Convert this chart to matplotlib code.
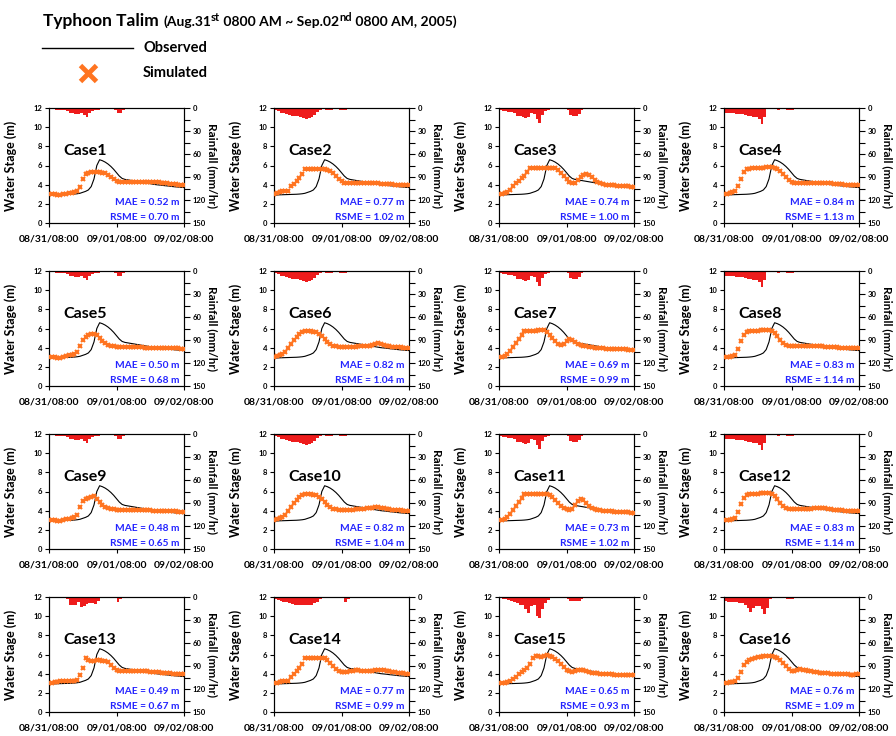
import numpy as np
import matplotlib
matplotlib.use("Agg")
import matplotlib.pyplot as plt
from matplotlib.lines import Line2D
from matplotlib.ticker import MultipleLocator

plt.rcParams['font.family'] = ['Lato', 'DejaVu Sans']
plt.rcParams['font.weight'] = 'bold'

# hourly time axis, 08/31 08:00 -> 09/02 08:00
hours = np.arange(49)
rain_hours = np.arange(48)
xtick_pos = [0, 24, 48]
xtick_labels = ['08/31/08:00', '09/01/08:00', '09/02/08:00']

observed = [2.9, 2.92, 2.94, 2.95, 2.96, 2.97, 2.98, 2.99, 3.0, 3.02, 3.05,
            3.1, 3.2, 3.3, 3.45, 3.8, 4.6, 6.0, 6.6,
            6.5, 6.35, 6.15, 5.9, 5.6, 5.25, 4.9, 4.65, 4.55, 4.5, 4.45, 4.4,
            4.35, 4.3, 4.25, 4.2, 4.15, 4.1, 4.05, 4.0, 3.97, 3.94, 3.9, 3.87,
            3.84, 3.8, 3.77, 3.75, 3.72, 3.7]

sim_case1 = [3.0, 3.0, 3.0, 2.95, 2.95, 3.0, 3.05, 3.1, 3.15, 3.2, 3.3,
             3.8, 4.6, 5.1, 5.25, 5.3, 5.3, 5.3, 5.3, 5.25, 5.2,
             5.0, 4.8, 4.6, 4.4, 4.3, 4.25, 4.25, 4.3, 4.3, 4.3,
             4.3, 4.3, 4.3, 4.3, 4.3, 4.3, 4.3, 4.3, 4.25, 4.2,
             4.2, 4.15, 4.1, 4.1, 4.05, 4.0, 4.0, 3.95]
sim_case2 = [3.0, 3.1, 3.2, 3.3, 3.3, 3.3, 3.9, 4.1, 4.4, 4.7, 5.1,
             5.6, 5.65, 5.65, 5.65, 5.65, 5.65, 5.65, 5.6, 5.55, 5.4,
             5.2, 4.9, 4.6, 4.35, 4.2, 4.15, 4.15, 4.15, 4.15, 4.15,
             4.15, 4.15, 4.15, 4.15, 4.15, 4.15, 4.15, 4.1, 4.1, 4.1,
             4.05, 4.05, 4.0, 4.0, 4.0, 4.0, 3.95, 3.95]
sim_case3 = [3.0, 3.0, 3.1, 3.2, 3.45, 3.9, 4.2, 4.4, 4.7, 4.9, 5.3,
             5.7, 5.7, 5.75, 5.75, 5.75, 5.75, 5.7, 5.7, 5.7, 5.7,
             5.5, 5.2, 4.9, 4.6, 4.3, 4.15, 4.2, 4.5, 4.8, 5.0,
             5.1, 5.0, 4.8, 4.5, 4.3, 4.2, 4.1, 4.0, 4.0, 3.95,
             3.95, 3.9, 3.9, 3.85, 3.85, 3.85, 3.8, 3.8]
sim_case4 = [3.0, 3.0, 3.1, 3.2, 3.3, 3.9, 4.6, 5.3, 5.6, 5.65, 5.7,
             5.7, 5.7, 5.75, 5.75, 5.8, 5.8, 5.8, 5.7, 5.6, 5.4,
             5.1, 4.8, 4.5, 4.3, 4.15, 4.15, 4.15, 4.15, 4.15, 4.15,
             4.15, 4.15, 4.2, 4.2, 4.2, 4.2, 4.15, 4.15, 4.1, 4.1,
             4.05, 4.05, 4.0, 4.0, 4.0, 4.0, 3.95, 3.95]
sim_case5 = [3.0, 3.0, 3.0, 2.95, 2.95, 3.0, 3.1, 3.2, 3.2, 3.3, 3.5,
             4.2, 4.8, 5.1, 5.3, 5.45, 5.4, 5.3, 5.0, 4.7, 4.5,
             4.3, 4.2, 4.15, 4.1, 4.1, 4.1, 4.05, 4.05, 4.05, 4.05,
             4.05, 4.05, 4.05, 4.0, 4.0, 4.0, 4.0, 4.0, 3.95, 3.95,
             3.95, 3.95, 3.95, 4.0, 4.0, 3.95, 3.9, 3.9]
sim_case6 = [3.0, 3.1, 3.2, 3.3, 3.5, 4.0, 4.4, 4.8, 5.1, 5.4, 5.6,
             5.7, 5.7, 5.7, 5.65, 5.6, 5.4, 5.2, 4.9, 4.6, 4.4,
             4.2, 4.15, 4.1, 4.1, 4.1, 4.1, 4.1, 4.1, 4.1, 4.15,
             4.15, 4.15, 4.2, 4.2, 4.3, 4.4, 4.45, 4.4, 4.3, 4.2,
             4.15, 4.1, 4.1, 4.05, 4.05, 4.0, 4.0, 3.95]
sim_case7 = [3.0, 3.0, 3.1, 3.3, 3.7, 4.1, 4.5, 4.9, 5.3, 5.7, 5.75,
             5.75, 5.7, 5.75, 5.8, 5.85, 5.8, 5.6, 5.3, 5.0, 4.7,
             4.4, 4.25, 4.4, 4.7, 4.9, 4.8, 4.6, 4.4, 4.3, 4.2,
             4.15, 4.1, 4.05, 4.0, 4.0, 3.95, 3.95, 3.9, 3.9, 3.9,
             3.9, 3.85, 3.85, 3.85, 3.85, 3.8, 3.8, 3.8]
sim_case8 = [3.0, 3.0, 3.05, 3.1, 3.2, 3.9, 4.7, 5.3, 5.6, 5.7, 5.75,
             5.75, 5.75, 5.8, 5.8, 5.8, 5.8, 5.7, 5.5, 5.2, 4.8,
             4.5, 4.3, 4.2, 4.15, 4.15, 4.15, 4.15, 4.15, 4.15, 4.15,
             4.15, 4.15, 4.15, 4.15, 4.15, 4.1, 4.1, 4.1, 4.05, 4.05,
             4.0, 4.0, 4.0, 4.0, 4.0, 3.95, 3.95, 3.95]
sim_case9 = [3.0, 3.0, 3.0, 2.95, 2.95, 3.0, 3.1, 3.15, 3.2, 3.3, 3.5,
             4.4, 5.0, 5.2, 5.3, 5.4, 5.5, 5.2, 4.9, 4.6, 4.4,
             4.3, 4.2, 4.15, 4.1, 4.1, 4.1, 4.1, 4.1, 4.1, 4.1,
             4.1, 4.1, 4.1, 4.05, 4.05, 4.05, 4.0, 4.0, 4.0, 4.0,
             4.0, 3.95, 3.95, 3.95, 3.95, 3.9, 3.9, 3.9]
sim_case10 = [3.0, 3.1, 3.2, 3.3, 3.5, 4.0, 4.4, 4.8, 5.1, 5.4, 5.6,
              5.7, 5.7, 5.7, 5.65, 5.6, 5.4, 5.2, 4.9, 4.6, 4.4,
              4.2, 4.15, 4.1, 4.1, 4.1, 4.1, 4.1, 4.1, 4.15, 4.15,
              4.2, 4.2, 4.25, 4.3, 4.3, 4.35, 4.35, 4.3, 4.25, 4.2,
              4.15, 4.1, 4.1, 4.05, 4.05, 4.0, 4.0, 3.95]
sim_case11 = [3.0, 3.0, 3.1, 3.3, 3.7, 4.1, 4.5, 4.9, 5.3, 5.7, 5.75,
              5.75, 5.7, 5.75, 5.75, 5.7, 5.7, 5.7, 5.6, 5.4, 5.1,
              4.8, 4.5, 4.3, 4.15, 4.1, 4.2, 4.6, 5.0, 5.2, 5.1,
              4.8, 4.5, 4.3, 4.2, 4.1, 4.05, 4.0, 4.0, 3.95, 3.95,
              3.9, 3.9, 3.9, 3.85, 3.85, 3.85, 3.8, 3.8]
sim_case12 = [3.0, 3.0, 3.05, 3.1, 3.2, 3.9, 4.7, 5.3, 5.6, 5.7, 5.75,
              5.75, 5.75, 5.8, 5.8, 5.8, 5.8, 5.7, 5.5, 5.2, 4.8,
              4.5, 4.3, 4.2, 4.15, 4.15, 4.15, 4.15, 4.15, 4.2, 4.2,
              4.2, 4.25, 4.3, 4.3, 4.3, 4.25, 4.2, 4.15, 4.1, 4.1,
              4.05, 4.05, 4.0, 4.0, 4.0, 3.95, 3.95, 3.95]
sim_case13 = [3.0, 3.05, 3.1, 3.15, 3.2, 3.2, 3.2, 3.2, 3.2, 3.2, 3.3,
              3.9, 4.6, 5.6, 5.4, 5.3, 5.3, 5.4, 5.4, 5.35, 5.3,
              5.2, 4.9, 4.6, 4.4, 4.3, 4.3, 4.3, 4.3, 4.3, 4.3,
              4.3, 4.3, 4.3, 4.25, 4.25, 4.2, 4.2, 4.15, 4.15, 4.1,
              4.1, 4.05, 4.05, 4.0, 4.0, 4.0, 3.95, 3.95]
sim_case14 = [3.0, 3.05, 3.1, 3.2, 3.2, 3.2, 3.7, 4.0, 4.3, 4.6, 5.0,
              5.6, 5.65, 5.65, 5.65, 5.65, 5.65, 5.65, 5.6, 5.4, 5.1,
              4.8, 4.5, 4.3, 4.2, 4.2, 4.2, 4.25, 4.3, 4.35, 4.35,
              4.3, 4.3, 4.3, 4.3, 4.3, 4.35, 4.4, 4.4, 4.35, 4.3,
              4.25, 4.2, 4.15, 4.1, 4.1, 4.05, 4.0, 4.0]
sim_case15 = [3.0, 3.0, 3.05, 3.1, 3.2, 3.4, 3.7, 4.0, 4.2, 4.4, 4.6,
              5.0, 5.6, 5.8, 5.8, 5.75, 5.8, 5.9, 5.85, 5.7, 5.5,
              5.3, 5.0, 4.7, 4.4, 4.25, 4.2, 4.25, 4.35, 4.4, 4.35,
              4.25, 4.15, 4.1, 4.05, 4.05, 4.0, 4.0, 3.95, 3.95, 3.95,
              3.9, 3.9, 3.9, 3.9, 3.85, 3.85, 3.85, 3.85]
sim_case16 = [3.0, 3.05, 3.1, 3.15, 3.2, 3.5, 4.2, 4.9, 5.2, 5.4, 5.5,
              5.6, 5.7, 5.75, 5.8, 5.8, 5.8, 5.8, 5.75, 5.6, 5.4,
              5.1, 4.8, 4.5, 4.3, 4.3, 4.4, 4.45, 4.4, 4.35, 4.3,
              4.25, 4.2, 4.15, 4.1, 4.1, 4.05, 4.05, 4.0, 4.0, 4.0,
              3.95, 3.95, 3.95, 3.95, 3.9, 3.9, 3.95, 3.95]

# hourly rainfall (mm/hr)
rain_col1 = [1, 1, 2, 2, 2, 3, 4, 6, 7, 8, 8, 7,
             9, 12, 6, 4, 3, 2, 1, 1, 1, 1, 1, 2,
             7, 6, 2, 1, 1, 1, 1, 1, 1, 1, 1, 1,
             1, 1, 1, 1, 1, 1, 1, 1, 1, 1, 1, 1]
rain_col2 = [3, 4, 6, 7, 8, 9, 10, 11, 11, 12, 13, 14,
             13, 12, 9, 5, 2, 1, 2, 2, 2, 1, 1, 2,
             2, 2, 1, 1, 1, 1, 1, 1, 1, 1, 1, 1,
             1, 1, 1, 1, 1, 1, 1, 1, 1, 1, 1, 1]
rain_col3 = [3, 4, 4, 5, 5, 6, 10, 11, 12, 13, 12, 7,
             8, 14, 20, 9, 4, 3, 1, 1, 1, 1, 1, 1,
             3, 9, 10, 10, 8, 2, 1, 1, 1, 1, 1, 1,
             1, 1, 1, 1, 1, 1, 1, 1, 1, 1, 1, 1]
rain_col4 = [6, 7, 7, 7, 8, 8, 8, 9, 10, 11, 12, 12,
             14, 21, 12, 1, 1, 1, 1, 2, 1, 1, 2, 2,
             2, 1, 1, 1, 1, 1, 1, 1, 1, 1, 1, 1,
             1, 1, 1, 1, 1, 1, 1, 1, 1, 1, 1, 1]
rain_case13 = [1, 1, 1, 1, 1, 1, 2, 10, 11, 11, 6, 13,
               12, 9, 8, 8, 9, 5, 1, 1, 1, 1, 1, 1,
               7, 2, 1, 1, 1, 1, 1, 1, 1, 1, 1, 1,
               1, 1, 1, 1, 1, 1, 1, 1, 1, 1, 1, 1]
rain_case14 = [3, 4, 5, 6, 7, 8, 9, 10, 10, 11, 11, 11,
               10, 10, 8, 6, 3, 1, 1, 1, 1, 1, 1, 1,
               1, 7, 2, 1, 1, 1, 1, 1, 1, 1, 1, 1,
               1, 1, 1, 1, 1, 1, 1, 1, 1, 1, 1, 1]
rain_case15 = [1, 2, 3, 4, 5, 6, 8, 10, 11, 15, 21, 12,
               11, 25, 28, 15, 8, 4, 1, 1, 1, 1, 1, 1,
               3, 5, 5, 5, 5, 2, 1, 1, 1, 1, 1, 1,
               1, 1, 1, 1, 1, 1, 1, 1, 1, 1, 1, 1]
rain_case16 = [5, 6, 7, 7, 7, 8, 8, 10, 14, 20, 14, 12,
               12, 16, 22, 14, 3, 1, 1, 1, 1, 1, 2, 3,
               3, 1, 1, 1, 1, 1, 1, 1, 1, 1, 1, 1,
               1, 1, 1, 1, 1, 1, 1, 1, 1, 1, 1, 1]

case_names = ['Case%d' % i for i in range(1, 17)]
mae = [0.52, 0.77, 0.74, 0.84, 0.50, 0.82, 0.69, 0.83,
       0.48, 0.82, 0.73, 0.83, 0.49, 0.77, 0.65, 0.76]
rsme = [0.70, 1.02, 1.00, 1.13, 0.68, 1.04, 0.99, 1.14,
        0.65, 1.04, 1.02, 1.14, 0.67, 0.99, 0.93, 1.09]

simulated = [sim_case1, sim_case2, sim_case3, sim_case4,
             sim_case5, sim_case6, sim_case7, sim_case8,
             sim_case9, sim_case10, sim_case11, sim_case12,
             sim_case13, sim_case14, sim_case15, sim_case16]
rainfall = [rain_col1, rain_col2, rain_col3, rain_col4] * 3 + \
           [rain_case13, rain_case14, rain_case15, rain_case16]

ORANGE = '#ff7420'
RED = '#ee1c1c'
BLUE = '#2424ff'

W, H = 896, 736
fig = plt.figure(figsize=(W / 100, H / 100), dpi=100)

col_left = [49, 274, 499, 724]
row_top = [108, 271, 434, 597]
ax_w, ax_h = 135, 115

for i in range(16):
    r, c = divmod(i, 4)
    ax = fig.add_axes([col_left[c] / W, 1 - (row_top[r] + ax_h) / H, ax_w / W, ax_h / H])
    ax2 = ax.twinx()

    # rainfall hangs from the top on an inverted axis
    ax2.bar(rain_hours, rainfall[i], width=1.0, align='edge', color=RED, linewidth=0)
    ax2.set_ylim(150, 0)
    ax2.yaxis.set_major_locator(MultipleLocator(30))
    ax2.yaxis.set_minor_locator(MultipleLocator(15))
    ax2.tick_params(axis='y', which='major', labelsize=5.5, length=4, width=0.8, pad=2)
    ax2.tick_params(axis='y', which='minor', length=4, width=0.8)
    ax2.set_ylabel('Rainfall (mm/hr)', fontsize=8.5, fontweight='bold', rotation=270)
    ax2.yaxis.set_label_coords(1.25, 0.5)

    ax.plot(hours, observed, color='black', lw=0.8, zorder=3)
    ax.plot(hours, simulated[i], ls='none', marker='x', ms=3.2, mew=1.5,
            color=ORANGE, zorder=4)
    ax.set_zorder(ax2.get_zorder() + 1)
    ax.patch.set_visible(False)

    ax.set_xlim(0, 48)
    ax.set_ylim(0, 12)
    ax.set_yticks(range(0, 13, 2))
    ax.set_xticks(xtick_pos)
    ax.set_xticklabels(xtick_labels)
    ax.tick_params(axis='y', labelsize=5.5, length=3, width=0.8, pad=2)
    ax.tick_params(axis='x', labelsize=7.5, length=3, width=0.8, pad=5)
    ax.set_ylabel('Water Stage (m)', fontsize=9, fontweight='bold')
    ax.yaxis.set_label_coords(-0.235, 0.5)

    ax.text(0.11, 0.63, case_names[i], transform=ax.transAxes,
            fontsize=11.5, fontweight='bold', va='center')
    ax.text(0.97, 0.18, 'MAE = %.2f m' % mae[i], transform=ax.transAxes,
            fontsize=7.3, fontweight='bold', color=BLUE, ha='right', va='center')
    ax.text(0.97, 0.05, 'RSME = %.2f m' % rsme[i], transform=ax.transAxes,
            fontsize=7.3, fontweight='bold', color=BLUE, ha='right', va='center')

# title made of pieces so the ordinal suffixes sit raised
renderer = fig.canvas.get_renderer()
title_parts = [('Typhoon Talim ', 12.5, 0), ('(Aug.31', 10, 0), ('st', 8, 5),
               (' 0800 AM ~ Sep.02', 10, 0), ('nd', 8, 5), (' 0800 AM, 2005)', 10, 0)]
x_px = 43
for text, size, rise in title_parts:
    t = fig.text(x_px / W, (H - 26 + rise) / H, text, fontsize=size,
                 fontweight='bold', va='baseline', ha='left')
    x_px = t.get_window_extent(renderer).x1

fig.add_artist(Line2D([42 / W, 133 / W], [1 - 48 / H, 1 - 48 / H],
                      color='black', lw=1.0))
fig.add_artist(Line2D([88 / W], [1 - 73 / H], marker='x', ms=11, mew=3.5,
                      color=ORANGE, ls='none'))
fig.text(143 / W, 1 - 48 / H, 'Observed', fontsize=10.5, fontweight='bold', va='center')
fig.text(143 / W, 1 - 73 / H, 'Simulated', fontsize=10.5, fontweight='bold', va='center')

fig.savefig('out.png', dpi=100)
